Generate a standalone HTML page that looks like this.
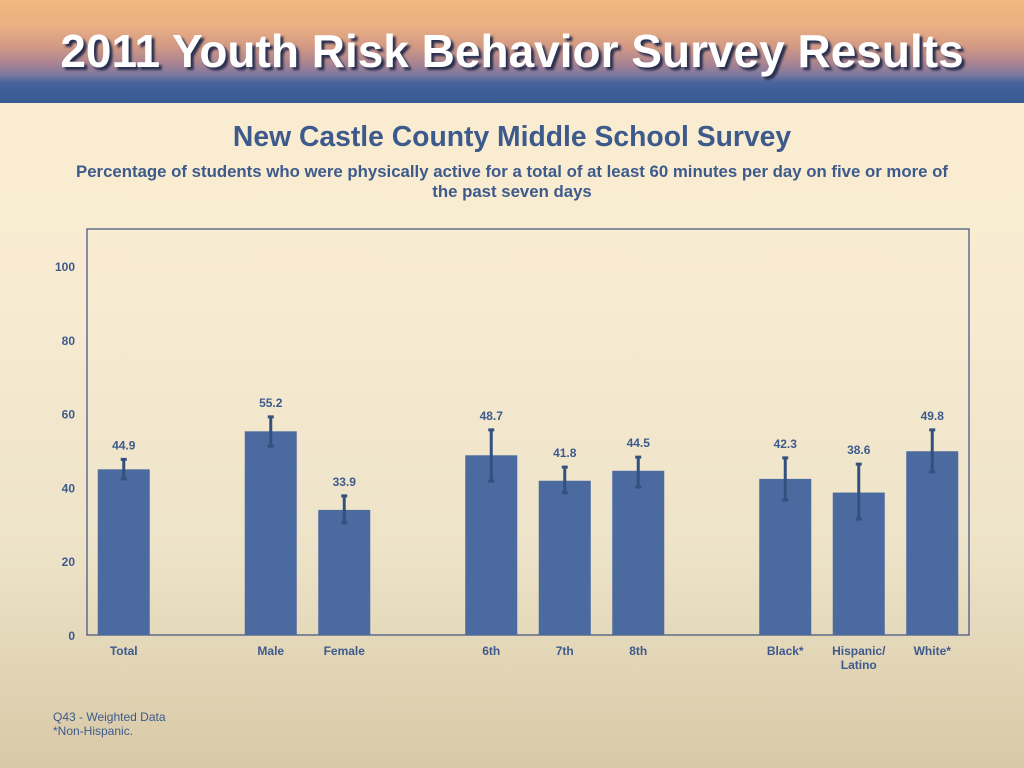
<!DOCTYPE html>
<html><head><meta charset="utf-8"><style>
body{margin:0;width:1024px;height:768px;overflow:hidden;position:relative;font-family:"Liberation Sans",sans-serif;background:linear-gradient(#fcedcf 0px,#f7ebd2 300px,#ede3c8 550px,#d8c9a6 768px);}
#hdr{position:absolute;left:0;top:0;width:1024px;height:103px;background:linear-gradient(#f0b97e 0%,#eab083 25%,#d39a84 45%,#a88391 62%,#7f7aa0 72%,#4b659c 80%,#3d5e98 88%,#3a5a92 100%);}
#hdr .t{position:absolute;left:0;width:1024px;top:24px;text-align:center;color:#fff;font-weight:bold;font-size:46px;text-shadow:3px 3px 2px #2a3050;}
.ttl{position:absolute;left:0;width:1024px;text-align:center;color:#3d5a8c;font-weight:bold;white-space:nowrap;}
.note{position:absolute;left:53px;font-size:12px;color:#3d5a8c;}
</style></head><body>
<div id="hdr"><div class="t">2011 Youth Risk Behavior Survey Results</div></div>
<div class="ttl" style="top:120px;font-size:28.3px">New Castle County Middle School Survey</div>
<div class="ttl" style="top:162px;font-size:16.8px;line-height:20px">Percentage of students who were physically active for a total of at least 60 minutes per day on five or more of<br>the past seven days</div>
<svg id="c" width="1024" height="768" style="position:absolute;left:0;top:0"></svg>
<div class="note" style="top:710px">Q43 - Weighted Data</div>
<div class="note" style="top:724px">*Non-Hispanic.</div>
<script>
const categories=["Total","Male","Female","6th","7th","8th","Black*","Hispanic/\nLatino","White*"];
const slots=[0,2,3,5,6,7,9,10,11];
const values=[44.9,55.2,33.9,48.7,41.8,44.5,42.3,38.6,49.8];
const errLow=[42.3,51.2,30.4,41.7,38.5,40.1,36.6,31.4,44.2];
const errHigh=[47.6,59.1,37.7,55.6,45.5,48.2,48.0,46.3,55.6];
const yTicks=[0,20,40,60,80,100];
const NS="http://www.w3.org/2000/svg",svg=document.getElementById('c');
const L=87,R=969,T=229,B=635,slotW=(R-L)/12;
const y=v=>B-v*3.69, x=i=>L+slotW*(i+0.5);
function mk(t,a){const e=document.createElementNS(NS,t);for(const k in a)e.setAttribute(k,a[k]);svg.appendChild(e);return e;}
let e=mk('rect',{x:L,y:T,width:R-L,height:B-T,fill:'none',stroke:'#3d4f7c','stroke-width':1.2});


yTicks.forEach(t=>{const tx=mk('text',{x:75,y:y(t)+5,'text-anchor':'end','font-size':12,'font-weight':'bold',fill:'#3d5a8c'});tx.textContent=t;

});
values.forEach((v,i)=>{const cx=x(slots[i]);
const r=mk('rect',{x:cx-26,y:y(v),width:52,height:B-y(v),fill:'#4a6aa0'});


const g=mk('path',{d:`M${cx} ${y(errLow[i])}V${y(errHigh[i])}M${cx-3} ${y(errLow[i])}H${cx+3}M${cx-3} ${y(errHigh[i])}H${cx+3}`,stroke:'#34507e','stroke-width':3,fill:'none'});


const lb=mk('text',{x:cx,y:y(errHigh[i])-10,'text-anchor':'middle','font-size':12,'font-weight':'bold',fill:'#3d5a8c'});lb.textContent=v.toFixed(1);


categories[i].split('\n').forEach((s,j)=>{const c=mk('text',{x:cx,y:655+j*14,'text-anchor':'middle','font-size':12,'font-weight':'bold',fill:'#3d5a8c'});c.textContent=s;

});
});
</script>
</body></html>
